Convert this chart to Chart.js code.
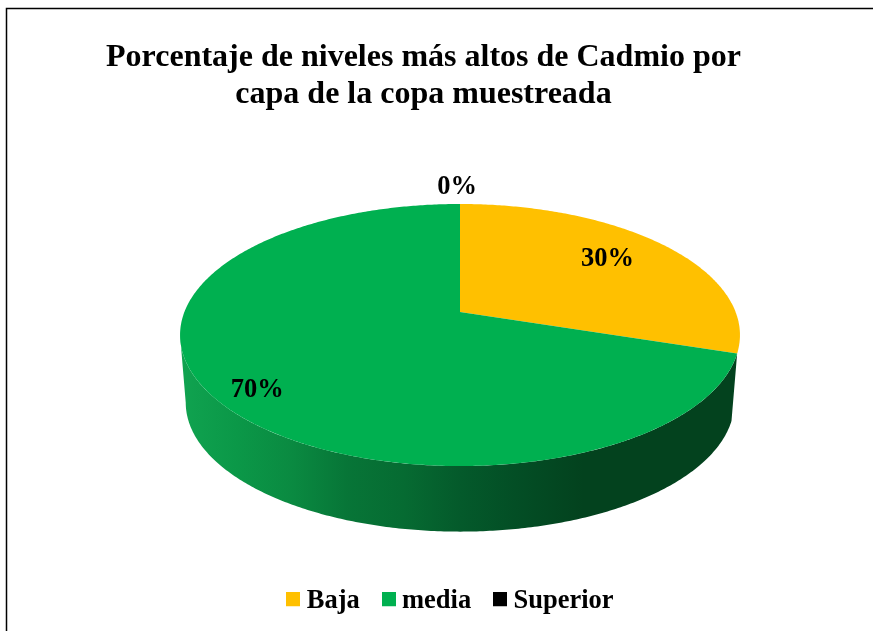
<!DOCTYPE html>
<html><head><meta charset="utf-8">
<style>html,body{margin:0;padding:0;background:#fff;overflow:hidden}#w{width:873px;height:631px}</style>
<script src="https://cdn.jsdelivr.net/npm/chart.js@4"></script></head>
<body><div id="w"><canvas id="c" width="873" height="631"></canvas></div>
<script>
const categories = ['Baja', 'media', 'Superior'];
const values = [30, 70, 0];
const sliceColors = ['#FFC000', '#00B050', '#000000'];
const titleLines = ['Porcentaje de niveles más altos de Cadmio por', 'capa de la copa muestreada'];

const SERIF = '"Liberation Serif", "Times New Roman", serif';
const P = {cx: 460, cy: 312, k: 0.1756, a: 127, b: 275.6, cy2: 380, a2: 125, b2: 270};
const proj = (ux, uy, lower) => {
  const d = 1 - P.k * uy;
  return lower ? [P.cx + P.b2 * ux / d, P.cy2 + P.a2 * uy / d]
               : [P.cx + P.b * ux / d, P.cy + P.a * uy / d];
};
const rim = (t, lower) => proj(Math.cos(t), Math.sin(t), lower);

// Arcs: the library's own elements, drawn through a perspective projection.
const Arc = Chart.elements.ArcElement;
Arc.prototype.draw = function (ctx) {
  const s = this.startAngle, e = this.endAngle;
  if (!(e - s > 1e-6)) return;
  ctx.save();
  ctx.fillStyle = this.options.backgroundColor;
  ctx.beginPath();
  ctx.moveTo(P.cx, P.cy);
  const n = Math.ceil((e - s) / 0.01);
  for (let i = 0; i <= n; i++) { const p = rim(s + (e - s) * i / n); ctx.lineTo(p[0], p[1]); }
  ctx.closePath();
  ctx.fill();
  ctx.restore();
};

const depthPlugin = {
  id: 'depth',
  beforeDatasetsDraw(chart) {
    const ctx = chart.ctx;
    chart.getDatasetMeta(0).data.forEach(el => {
      const s = el.startAngle, e = el.endAngle;
      if (!(s < Math.PI / 2 && e > Math.PI / 2)) return;
      const end = Math.min(e, Math.PI - Math.asin(P.k));
      const g = ctx.createLinearGradient(180, 0, 740, 0);
      [[0, '#10A350'], [0.1, '#0B9848'], [0.2, '#0A8A41'], [0.3, '#077537'], [0.4, '#066B32'],
       [0.5, '#045A2B'], [0.6, '#034E25'], [0.72, '#03421E'], [1, '#03421E']].forEach(c => g.addColorStop(c[0], c[1]));
      ctx.save();
      ctx.fillStyle = g;
      ctx.beginPath();
      const n = Math.ceil((end - s) / 0.01);
      for (let i = 0; i <= n; i++) { const p = rim(s + (end - s) * i / n, false); i ? ctx.lineTo(p[0], p[1]) : ctx.moveTo(p[0], p[1]); }
      for (let i = n; i >= 0; i--) { const p = rim(s + (end - s) * i / n, true); ctx.lineTo(p[0], p[1]); }
      ctx.closePath();
      ctx.fill();
      ctx.restore();
    });
  },
  afterDatasetsDraw(chart) {
    const ctx = chart.ctx;
    const spots = [[0.7, 2, -4], [0.85, 5, 9], [1, -3, -17]];
    ctx.save();
    ctx.fillStyle = '#000';
    ctx.font = 'bold 26.5px ' + SERIF;
    ctx.textAlign = 'center';
    ctx.textBaseline = 'middle';
    chart.getDatasetMeta(0).data.forEach((el, i) => {
      const m = (el.startAngle + el.endAngle) / 2, sp = spots[i];
      const p = proj(sp[0] * Math.cos(m), sp[0] * Math.sin(m));
      ctx.fillText(values[i] + '%', p[0] + sp[1], p[1] + sp[2]);
    });
    ctx.restore();
  }
};

const framePlugin = {
  id: 'frame',
  afterLayout(chart) {
    const t = chart.titleBlock, l = chart.legend;
    t.left -= 13; t.right -= 13;
    l.left += 17; l.right += 17;
    l.top = 559; l.bottom = 641;
  },
  beforeDraw(chart) {
    const c = chart.ctx;
    c.save();
    c.fillStyle = '#fff';
    c.fillRect(0, 0, chart.width, chart.height);
    c.strokeStyle = '#000';
    c.lineWidth = 1.5;
    c.beginPath();
    c.moveTo(6.5, 631); c.lineTo(6.5, 8.5); c.lineTo(chart.width, 8.5);
    c.stroke();
    c.restore();
  }
};

const swatch = color => {
  const s = document.createElement('canvas');
  s.width = 14; s.height = 18;
  const x = s.getContext('2d');
  x.fillStyle = color; x.fillRect(0, 0, 14, 14);
  return s;
};

new Chart(document.getElementById('c'), {
  type: 'pie',
  data: {labels: categories, datasets: [{data: values, backgroundColor: sliceColors, borderWidth: 0}]},
  plugins: [depthPlugin, framePlugin],
  options: {
    responsive: false,
    animation: false,
    plugins: {
      tooltip: {enabled: false},
      title: {
        display: true, text: titleLines, color: '#000',
        font: {family: SERIF, size: 32, weight: 'bold', lineHeight: 1.16},
        padding: {top: 39, bottom: 20}
      },
      legend: {
        position: 'bottom',
        labels: {
          color: '#000', padding: 29, usePointStyle: true, pointStyleWidth: 0.01, boxHeight: 14,
          font: {family: SERIF, size: 26.5, weight: 'bold'},
          generateLabels: () => categories.map((name, i) => ({
            text: name, fillStyle: sliceColors[i], pointStyle: swatch(sliceColors[i]),
            strokeStyle: sliceColors[i], lineWidth: 0, hidden: false, index: i, fontColor: '#000'
          }))
        }
      }
    }
  }
});
</script></body></html>
